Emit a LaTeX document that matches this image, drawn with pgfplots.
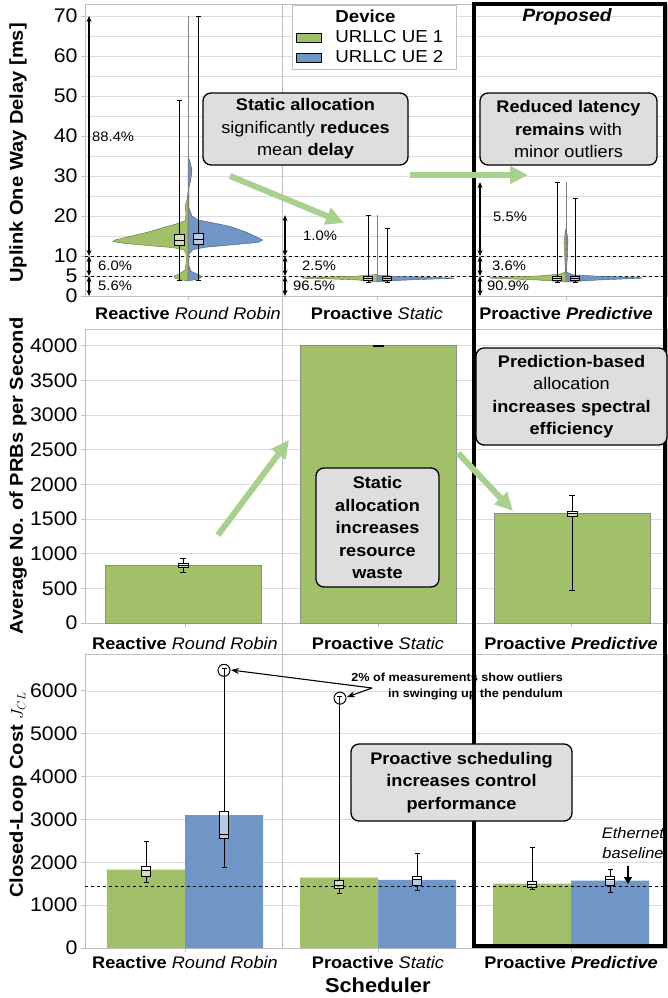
\documentclass[border=0pt]{standalone}
\usepackage{fontspec}
\setmainfont{Liberation Sans}[FakeStretch=1.08]
\usepackage{pgfplots}
\pgfplotsset{compat=1.18}
\usepgfplotslibrary{statistics}
\usetikzlibrary{arrows.meta}
\definecolor{ggreen}{RGB}{162,192,106}
\definecolor{gblue}{RGB}{111,150,198}
\definecolor{boxgray}{RGB}{222,222,222}
\definecolor{agreen}{RGB}{169,208,142}
\definecolor{gridc}{RGB}{220,220,220}
\definecolor{axc}{RGB}{191,191,191}
\newcommand{\fs}[2]{\fontsize{#1pt}{#2pt}\selectfont}
\pgfplotsset{
  panel/.style={
    scale only axis, width=582pt, anchor=south west,
    axis line style={axc, line width=0.8pt},
    tick style={axc, line width=0.8pt},
    major tick length=4pt, minor tick length=0pt,
    tick align=outside, tick pos=left,
    ymajorgrids, grid style={gridc, line width=0.7pt},
    xticklabel style={font=\fs{16.8}{19}, anchor=center},
    yticklabel style={font=\fs{19.7}{23}},
    /pgf/number format/assume math mode=true,
    /pgf/number format/1000 sep={},
    every axis y label/.style={rotate=90, anchor=center, font=\bfseries\fs{18.6}{22}},
  },
  cats/.style={xticklabels={{\textbf{Reactive} \textit{Round Robin}},{\textbf{Proactive} \textit{Static}},{\textbf{Proactive \textit{Predictive}}}}},
  bx/.style={black, line width=0.7pt, forget plot, boxplot/draw direction=y, boxplot/every box/.style={fill=white, fill opacity=0.5}},
}
\tikzset{
  pct/.style={{Stealth[length=6pt,width=5pt]}-{Stealth[length=6pt,width=5pt]}, line width=1.3pt},
  abox/.style={draw=black, line width=1.3pt, rounded corners=8pt, fill=boxgray, align=center, inner sep=0pt, font=\fs{16.8}{22.5}},
  garrow/.style={agreen, line width=6pt, -{Triangle[length=18pt,width=17pt]}},
}
\begin{document}
\begin{tikzpicture}
\useasboundingbox (0pt,0pt) rectangle (668pt,-998pt);

% ---------------- top panel ----------------
\begin{axis}[panel, at={(85pt,-296pt)}, height=292pt,
  xmin=-103, xmax=479, ymin=0, ymax=73,
  xtick={0,189,378}, cats, xticklabel style={yshift=-13pt},
  ytick={0,5,10,20,30,40,50,60,70}, minor ytick={15,25,35,45,55,65},
  yminorgrids, minor grid style={gridc, line width=0.7pt},
  ylabel={Uplink One Way Delay [ms]}, ylabel style={at={(axis description cs:-0.115,0.49)}},
  legend style={at={(axis description cs:0.356,0.997)}, anchor=north west, draw=axc, line width=0.8pt, fill=white,
    font=\fs{17.3}{19}, inner xsep=3pt, inner ysep=1.5pt, row sep=0pt, column sep=12pt,
    nodes={inner ysep=3.3pt}, cells={anchor=west}},
  legend image code/.code={\draw[#1, line width=0.8pt] (0pt,-4.5pt) rectangle (25pt,4.5pt);},
]
\addplot[black, dashed, line width=0.7pt, forget plot] coordinates {(-103,5) (479,5)};
\addplot[black, dashed, line width=0.7pt, forget plot] coordinates {(-103,10) (479,10)};
% Reactive RR violins
\addplot[fill=ggreen, draw=ggreen!60!black, line width=0.4pt, forget plot] coordinates {(0,26) (-1,24) (-3,22.5) (-2,20.5) (-3,18.8) (-12,18) (-22,17.3) (-40,16) (-60,14.8) (-73,14) (-75,13.6) (-65,13.2) (-40,12.6) (-15,12.1) (-4,11.5) (-2,10.5) (-2,8) (-3,6.5) (-8,5.6) (-14,5) (-13,4.4) (-6,4) (0,3.8) (0,26)};
\addplot[fill=gblue, draw=gblue!60!black, line width=0.4pt, forget plot] coordinates {(0,35) (2,33.5) (4,31.5) (3,29.5) (1,27) (1,22) (4,20) (10,19) (25,18.3) (42,17.4) (58,16) (70,14.6) (75,14) (70,13.4) (45,12.8) (18,12.2) (5,11.6) (1,10.5) (1,7.5) (3,6.2) (9,5.5) (14,4.8) (10,4.2) (3,3.9) (0,3.8) (0,35)};
\addplot[gray, line width=0.5pt, forget plot] coordinates {(0,3.8) (0,70)};
% Proactive Static violins
\addplot[fill=ggreen, draw=ggreen!60!black, line width=0.4pt, forget plot] coordinates {(189,5.4) (185,5.3) (170,5.0) (140,4.75) (114,4.6) (114,4.45) (140,4.3) (170,4.0) (189,3.5) (189,5.4)};
\addplot[fill=gblue, draw=gblue!60!black, line width=0.4pt, forget plot] coordinates {(189,5.2) (210,4.9) (240,4.65) (266,4.5) (266,4.4) (240,4.2) (210,3.9) (189,3.5) (189,5.2)};
\addplot[gray, line width=0.5pt, forget plot] coordinates {(189,3.5) (189,20.2)};
% Proactive Predictive violins
\addplot[fill=ggreen, draw=ggreen!60!black, line width=0.4pt, forget plot] coordinates {(378,17) (376,14) (376.5,11) (377.5,6) (372,5.5) (350,5.0) (320,4.75) (302,4.6) (302,4.45) (320,4.3) (350,4.0) (378,3.5) (378,17)};
\addplot[fill=gblue, draw=gblue!60!black, line width=0.4pt, forget plot] coordinates {(378,17) (380,14) (379.5,11) (378.5,6) (385,5.3) (410,4.95) (440,4.7) (454,4.55) (454,4.45) (440,4.3) (410,4.0) (378,3.5) (378,17)};
\addplot[gray, line width=0.5pt, forget plot] coordinates {(378,3.5) (378,28.5)};
% box plots
\addplot[bx, boxplot prepared={draw position=-9, lower whisker=3.8, lower quartile=12.7, median=14.0, upper quartile=15.5, upper whisker=49, box extend=10, whisker extend=5}] coordinates {};
\addplot[bx, boxplot prepared={draw position=10, lower whisker=3.8, lower quartile=12.8, median=14.2, upper quartile=15.6, upper whisker=70, box extend=10, whisker extend=5}] coordinates {};
\addplot[bx, boxplot prepared={draw position=180, lower whisker=3.5, lower quartile=3.8, median=4.3, upper quartile=4.8, upper whisker=20.2, box extend=9, whisker extend=5}] coordinates {};
\addplot[bx, boxplot prepared={draw position=199, lower whisker=3.5, lower quartile=3.8, median=4.3, upper quartile=4.8, upper whisker=17, box extend=9, whisker extend=5}] coordinates {};
\addplot[bx, boxplot prepared={draw position=369, lower whisker=3.5, lower quartile=3.9, median=4.4, upper quartile=4.9, upper whisker=28.5, box extend=9, whisker extend=5}] coordinates {};
\addplot[bx, boxplot prepared={draw position=387, lower whisker=3.5, lower quartile=3.9, median=4.4, upper quartile=4.9, upper whisker=24.3, box extend=9, whisker extend=5}] coordinates {};
% share arrows
\draw[pct] (axis cs:-99,10) -- (axis cs:-99,70);
\draw[pct] (axis cs:-99,5) -- (axis cs:-99,10);
\draw[pct] (axis cs:-99,0) -- (axis cs:-99,5);
\draw[pct] (axis cs:97,10) -- (axis cs:97,20.2);
\draw[pct] (axis cs:97,5) -- (axis cs:97,10);
\draw[pct] (axis cs:97,0) -- (axis cs:97,5);
\draw[pct] (axis cs:292,10) -- (axis cs:292,28.5);
\draw[pct] (axis cs:292,5) -- (axis cs:292,10);
\draw[pct] (axis cs:292,0) -- (axis cs:292,5);
\begin{scope}[every node/.style={anchor=west, font=\fs{13.7}{15}, inner sep=0pt}]
\node at (axis cs:-96,39.75) {88.4\%};
\node at (axis cs:-90,7.5) {6.0\%};
\node at (axis cs:-90,2.5) {5.6\%};
\node at (axis cs:115,15) {1.0\%};
\node at (axis cs:114,7.5) {2.5\%};
\node at (axis cs:105,2.5) {96.5\%};
\node at (axis cs:305,19.75) {5.5\%};
\node at (axis cs:304,7.5) {3.6\%};
\node at (axis cs:299,2.5) {90.9\%};
\end{scope}
\addlegendimage{empty legend}\addlegendentry{\textbf{Device}}
\addlegendimage{fill=ggreen, draw=black}\addlegendentry{URLLC UE 1\hspace*{8pt}}
\addlegendimage{fill=gblue, draw=black}\addlegendentry{URLLC UE 2\hspace*{8pt}}
\end{axis}

% ---------------- middle panel ----------------
\begin{axis}[panel, at={(85pt,-623pt)}, height=294pt,
  xmin=-100, xmax=482, ymin=0, ymax=4240,
  xtick={0,193,386}, cats, xticklabel style={yshift=-16pt},
  ytick={0,500,...,4000},
  ylabel={Average No. of PRBs per Second}, ylabel style={at={(axis description cs:-0.115,0.5)}},
]
\addplot[ybar, bar width=156, bar shift=0pt, fill=ggreen, draw=black!45, line width=0.7pt, forget plot] coordinates {(-2,835) (193,4000) (387,1575)};
\addplot[bx, boxplot prepared={draw position=-2, lower whisker=735, lower quartile=807, median=835, upper quartile=860, upper whisker=926, box extend=10, whisker extend=6}] coordinates {};
\addplot[bx, boxplot prepared={draw position=193, lower whisker=3990, lower quartile=3995, median=4000, upper quartile=4005, upper whisker=4010, box extend=10, whisker extend=6}] coordinates {};
\addplot[bx, boxplot prepared={draw position=387, lower whisker=465, lower quartile=1545, median=1575, upper quartile=1605, upper whisker=1835, box extend=10, whisker extend=6}] coordinates {};
\end{axis}

% ---------------- bottom panel ----------------
\begin{axis}[panel, at={(85pt,-948pt)}, height=294pt,
  xmin=-100, xmax=482, ymin=0, ymax=6860,
  xtick={0,193,386}, cats, xticklabel style={yshift=-10pt},
  ytick={0,1000,...,6000},
  ylabel={Closed-Loop Cost $J_{CL}$}, ylabel style={at={(axis description cs:-0.115,0.52)}},
  xlabel={Scheduler}, xlabel style={at={(axis description cs:0.503,-0.126)}, anchor=center, font=\bfseries\fs{20.2}{23}},
]
\addplot[ybar, bar width=78, bar shift=0pt, fill=ggreen, draw=none, forget plot] coordinates {(-39,1830) (154,1640) (347,1500)};
\addplot[ybar, bar width=78, bar shift=0pt, fill=gblue, draw=none, forget plot] coordinates {(39,3100) (232,1590) (425,1570)};
\addplot[black, dashed, line width=0.7pt, forget plot] coordinates {(-100,1450) (482,1450)};
\addplot[bx, boxplot prepared={draw position=-39, lower whisker=1530, lower quartile=1680, median=1820, upper quartile=1915, upper whisker=2480, box extend=9, whisker extend=5}] coordinates {};
\addplot[bx, boxplot prepared={draw position=39, lower whisker=1880, lower quartile=2560, median=2660, upper quartile=3180, upper whisker=6530, box extend=9, whisker extend=5}] coordinates {};
\addplot[bx, boxplot prepared={draw position=154, lower whisker=1275, lower quartile=1390, median=1470, upper quartile=1570, upper whisker=5870, box extend=9, whisker extend=5}] coordinates {};
\addplot[bx, boxplot prepared={draw position=232, lower whisker=1350, lower quartile=1470, median=1610, upper quartile=1680, upper whisker=2210, box extend=9, whisker extend=5}] coordinates {};
\addplot[bx, boxplot prepared={draw position=347, lower whisker=1370, lower quartile=1415, median=1490, upper quartile=1550, upper whisker=2350, box extend=9, whisker extend=5}] coordinates {};
\addplot[bx, boxplot prepared={draw position=425, lower whisker=1290, lower quartile=1460, median=1610, upper quartile=1680, upper whisker=1840, box extend=9, whisker extend=5}] coordinates {};
\draw[line width=1pt] (axis cs:39,6480) circle[radius=6pt];
\draw[line width=1pt] (axis cs:155,5830) circle[radius=6pt];
\end{axis}

% ---------------- overlays ----------------
\begin{scope}[x=1pt, y=-1pt]
\draw[axc, line width=0.8pt] (282,4) -- (282,948);
\draw[line width=4pt] (474,4) rectangle (665,946);
\node[font=\bfseries\itshape\fs{17.9}{20}] at (567,17) {Proposed};
\draw[garrow] (230,176) -- (344,223);
\draw[garrow] (410,175) -- (528,175);
\draw[garrow] (218,535) -- (289,440);
\draw[garrow] (458,453) -- (513,511);
\node[abox, minimum width=205pt, minimum height=72pt] at (305.5,129) {\textbf{Static allocation}\\significantly \textbf{reduces}\\mean \textbf{delay}};
\node[abox, minimum width=177pt, minimum height=72pt] at (568.5,129) {\textbf{Reduced latency}\\\textbf{remains} with\\minor outliers};
\node[abox, minimum width=191pt, minimum height=97pt] at (571.5,396.5) {\textbf{Prediction-based}\\allocation\\\textbf{increases spectral}\\\textbf{efficiency}};
\node[abox, minimum width=123pt, minimum height=119pt] at (377.5,527.5) {\textbf{Static}\\\textbf{allocation}\\\textbf{increases}\\\textbf{resource}\\\textbf{waste}};
\node[abox, minimum width=221pt, minimum height=77pt] at (461.5,782.5) {\textbf{Proactive scheduling}\\\textbf{increases control}\\\textbf{performance}};
\node[anchor=east, align=right, font=\bfseries\fs{11.7}{16.5}, inner sep=0pt] at (563,686.5) {2\% of measurements show outliers\\in swinging up the pendulum};
\draw[-{Stealth[length=8pt,width=6pt]}, line width=1.1pt] (372,688) -- (231,670);
\draw[-{Stealth[length=8pt,width=6pt]}, line width=1.1pt] (372,688) -- (347,697);
\node[font=\itshape\fs{15.2}{20}, align=center, inner sep=0pt] at (633,843) {Ethernet\\baseline};
\draw[-{Triangle[length=7pt,width=8pt]}, line width=2pt] (628,866) -- (628,884);
\end{scope}
\end{tikzpicture}
\end{document}
